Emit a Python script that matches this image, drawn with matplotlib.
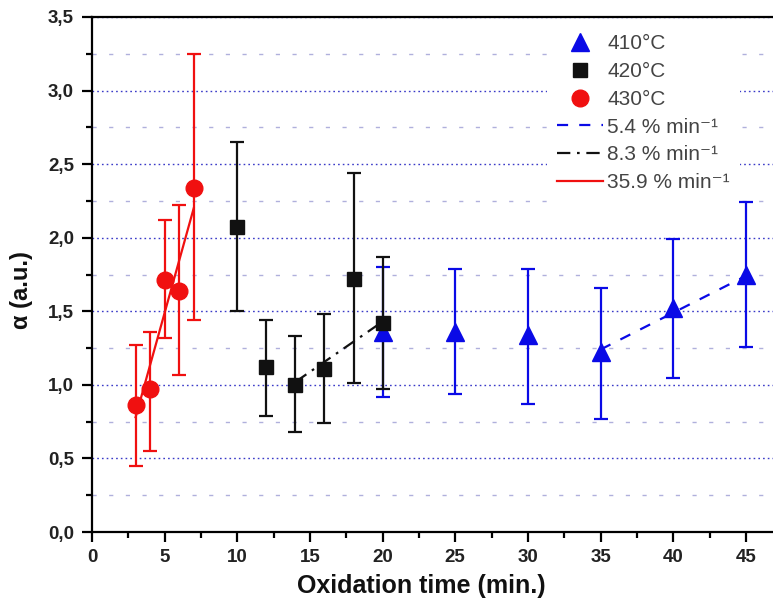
import numpy as np
import matplotlib
matplotlib.use("Agg")
import matplotlib.pyplot as plt
from matplotlib.lines import Line2D
from matplotlib.ticker import MultipleLocator, FuncFormatter

plt.rcParams['font.family'] = ['Liberation Sans', 'DejaVu Sans']
plt.rcParams['mathtext.default'] = 'regular'

# alpha vs. oxidation time, with min/max bars, for each temperature
t_410 = np.array([20, 25, 30, 35, 40, 45])
a_410 = np.array([1.36, 1.36, 1.34, 1.22, 1.52, 1.75])
a_410_hi = np.array([1.80, 1.79, 1.79, 1.66, 1.99, 2.24])
a_410_lo = np.array([0.92, 0.94, 0.87, 0.77, 1.05, 1.26])

t_420 = np.array([10, 12, 14, 16, 18, 20])
a_420 = np.array([2.07, 1.12, 1.00, 1.11, 1.72, 1.42])
a_420_hi = np.array([2.65, 1.44, 1.33, 1.48, 2.44, 1.87])
a_420_lo = np.array([1.50, 0.79, 0.68, 0.74, 1.01, 0.97])

t_430 = np.array([3, 4, 5, 6, 7])
a_430 = np.array([0.86, 0.97, 1.71, 1.64, 2.34])
a_430_hi = np.array([1.27, 1.36, 2.12, 2.22, 3.25])
a_430_lo = np.array([0.45, 0.55, 1.32, 1.07, 1.44])

# linear growth-rate fits
fit_410_t = [35, 45]
fit_410_a = [1.24, 1.74]
fit_420_t = [14, 20]
fit_420_a = [1.02, 1.43]
fit_430_t = [3, 7]
fit_430_a = [0.78, 2.20]

labels = ['410°C', '420°C', '430°C',
          '5.4 % min⁻¹', '8.3 % min⁻¹', '35.9 % min⁻¹']

BLUE = '#0a0ae6'
RED = '#f01010'
BLACK = '#111111'

fig = plt.figure(figsize=(7.73, 6.03), dpi=100)
ax = fig.add_axes([92 / 773, 1 - 532 / 603, 1 - 92 / 773, 515 / 603])

# horizontal grid only: dotted majors, light dashed minors
ax.set_axisbelow(True)
ax.yaxis.grid(True, which='major', color='#3a3ac8', lw=1.0, linestyle=(0, (1.2, 2.2)))
ax.yaxis.grid(True, which='minor', color='#b0b0dc', lw=1.0, linestyle=(0, (3, 9)))
ax.xaxis.grid(False)

ebkw = dict(capsize=5, elinewidth=1.6, capthick=1.6, linestyle='none', zorder=3)
ax.errorbar(t_410, a_410, yerr=[a_410 - a_410_lo, a_410_hi - a_410],
            marker='^', ms=12.5, color=BLUE, **ebkw)
ax.errorbar(t_420, a_420, yerr=[a_420 - a_420_lo, a_420_hi - a_420],
            marker='s', ms=10, color=BLACK, **ebkw)
ax.errorbar(t_430, a_430, yerr=[a_430 - a_430_lo, a_430_hi - a_430],
            marker='o', ms=12, color=RED, **ebkw)

ax.plot(fit_410_t, fit_410_a, color=BLUE, lw=1.6, dashes=(5, 5), zorder=4)
ax.plot(fit_420_t, fit_420_a, color=BLACK, lw=1.6, dashes=(6, 3, 1.2, 3), zorder=4)
ax.plot(fit_430_t, fit_430_a, color=RED, lw=1.6, zorder=4)

ax.set_xlim(0, 46.87)
ax.set_ylim(0, 3.5)
ax.xaxis.set_major_locator(MultipleLocator(5))
ax.xaxis.set_minor_locator(MultipleLocator(2.5))
ax.yaxis.set_major_locator(MultipleLocator(0.5))
ax.yaxis.set_minor_locator(MultipleLocator(0.25))
ax.yaxis.set_major_formatter(FuncFormatter(lambda v, p: f"{v:.1f}".replace('.', ',')))

for s in ['left', 'bottom', 'top']:
    ax.spines[s].set_linewidth(1.6)
ax.spines['right'].set_visible(False)
ax.tick_params(which='major', direction='out', length=7, width=1.6,
               labelsize=13.5, labelcolor='#222222')
ax.tick_params(axis='y', which='major', pad=6)
ax.tick_params(axis='x', which='major', pad=5)
ax.tick_params(which='minor', direction='out', length=4, width=1.6)
ax.tick_params(top=False, right=False, which='both')
for lab in ax.get_xticklabels() + ax.get_yticklabels():
    lab.set_fontweight('bold')

ax.set_xlabel('Oxidation time (min.)', fontsize=18, fontweight='bold', color='#111111')
ax.set_ylabel('α (a.u.)', fontsize=17, fontweight='bold', color='#111111')
ax.xaxis.set_label_coords(0.484, -0.082)
ax.yaxis.set_label_coords(-0.087, 0.47)

handles = [
    Line2D([], [], marker='^', ms=12.5, color=BLUE, linestyle='none'),
    Line2D([], [], marker='s', ms=10, color=BLACK, linestyle='none'),
    Line2D([], [], marker='o', ms=12, color=RED, linestyle='none'),
    Line2D([], [], color=BLUE, lw=1.6, dashes=(5, 5)),
    Line2D([], [], color=BLACK, lw=1.6, dashes=(6, 3, 1.2, 3)),
    Line2D([], [], color=RED, lw=1.6),
]
leg = ax.legend(handles, labels, loc='upper left',
                bbox_to_anchor=(547 / 773, 1 - 24 / 603),
                bbox_transform=fig.transFigure, fontsize=15,
                frameon=True, fancybox=False, framealpha=1,
                edgecolor='none', facecolor='white',
                handlelength=2.2, handletextpad=0.2, labelspacing=0.42,
                borderpad=0.5, borderaxespad=0)
for txt in leg.get_texts():
    txt.set_color('#444444')
leg.set_zorder(2.5)

fig.savefig('out.png', dpi=100)
